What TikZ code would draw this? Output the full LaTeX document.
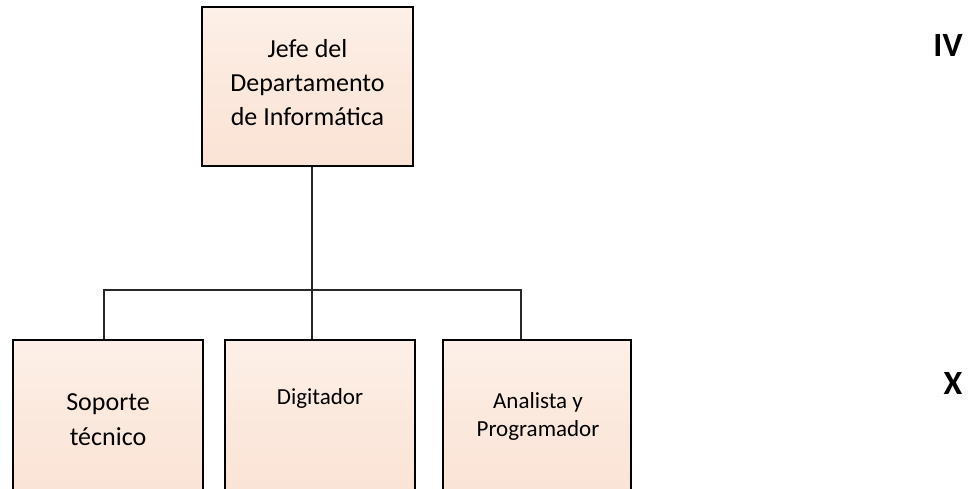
\documentclass[tikz,border=0pt]{standalone}
\usepackage{fontspec}
\setmainfont{Carlito}
\definecolor{boxtop}{RGB}{253,240,232}
\definecolor{boxbot}{RGB}{250,227,213}
\definecolor{linec}{RGB}{40,40,40}
\begin{document}
\begin{tikzpicture}[x=1pt,y=-1pt,
  orgbox/.style={draw=black, line width=1.2pt, rectangle, inner sep=0pt,
    top color=boxtop, bottom color=boxbot, middle color=boxtop!40!boxbot},
  conn/.style={draw=linec, line width=1.2pt},
  lbl/.style={align=center, inner sep=0pt, text=black}]
\useasboundingbox (0,0) rectangle (972,489);
\clip (0,0) rectangle (972,489);
% top box
\node[orgbox, minimum width=211pt, minimum height=159pt] (jefe) at (307.5,86.5) {};
\node[lbl, font=\fontsize{26}{34}\selectfont] (jefet) at (307.5,83) {Jefe del\\Departamento\\de Informática};
% bottom boxes
\node[orgbox, minimum width=190pt, minimum height=165pt] (sop) at (108,422.5) {};
\node[orgbox, minimum width=190pt, minimum height=165pt] (dig) at (320,422.5) {};
\node[orgbox, minimum width=188pt, minimum height=165pt] (ana) at (537,422.5) {};
\node[lbl, font=\fontsize{26}{35}\selectfont] (sopt) at (108,420) {Soporte\\técnico};
\node[lbl, font=\fontsize{23}{28}\selectfont] (digt) at (320,398) {Digitador};
\node[lbl, font=\fontsize{23}{28}\selectfont] (anat) at (538,416) {Analista y\\Programador};
% connectors
\coordinate (busL) at (104,290);
\coordinate (busM) at (312,290);
\coordinate (busR) at (521,290);
\draw[conn] (jefe.south -| busM) -- (busM);
\draw[conn] (busL |- sop.north) -- (busL) -- (busR) -- (busR |- ana.north);
\draw[conn] (busM) -- (busM |- dig.north);
% side labels
\node[font=\fontsize{34}{40}\selectfont\bfseries, inner sep=0pt] (iv) at (948,45) {IV};
\node[font=\fontsize{34}{40}\selectfont\bfseries, inner sep=0pt] (x) at (953,383) {X};
\end{tikzpicture}
\end{document}
